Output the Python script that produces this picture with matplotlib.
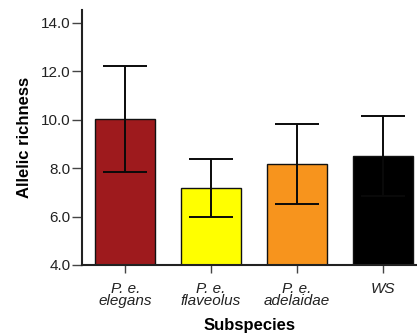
import matplotlib.pyplot as plt

plt.rcParams['font.family'] = ['Liberation Sans', 'DejaVu Sans']

# data
subspecies = ["P. e.\nelegans", "P. e.\nflaveolus", "P. e.\nadelaidae", "WS"]
richness = [10.04, 7.17, 8.17, 8.51]
err = [2.19, 1.19, 1.66, 1.66]
colors = ["#9E1A1D", "#FFFF00", "#F7941D", "#000000"]
yticks = [4.0, 6.0, 8.0, 10.0, 12.0, 14.0]

fig = plt.figure(figsize=(4.17, 3.35), dpi=100)
ax = fig.add_axes([0.1966, 0.209, 0.803, 0.761])

x = list(range(len(subspecies)))
ax.bar(x, [r - 4.0 for r in richness], bottom=4.0, width=0.7,
       color=colors, edgecolor="#111111", linewidth=1.0, zorder=2)
ax.errorbar(x, richness, yerr=err, fmt="none", ecolor="#0a0a0a",
            elinewidth=1.4, capsize=16, capthick=1.4, zorder=3)

ax.set_xlim(-0.505, 3.40)
ax.set_ylim(4.0, 14.53)
ax.set_yticks(yticks)
ax.set_yticklabels(["%.1f" % v for v in yticks], fontsize=11, color="#222222")
ax.set_xticks(x)
ax.set_xticklabels(subspecies, fontsize=11, style="italic", color="#222222",
                   linespacing=0.85)

for s in ["top", "right"]:
    ax.spines[s].set_visible(False)
for s in ["left", "bottom"]:
    ax.spines[s].set_linewidth(1.5)
    ax.spines[s].set_color("#222222")
ax.tick_params(axis="y", length=7, width=1.0, color="#444444", pad=1)
ax.tick_params(axis="x", length=6, width=1.0, color="#444444", pad=6)

ax.set_ylabel("Allelic richness", fontsize=12, fontweight="bold", labelpad=7)
ax.set_xlabel("Subspecies", fontsize=12, fontweight="bold", labelpad=7)

fig.savefig("out.png", dpi=100)
